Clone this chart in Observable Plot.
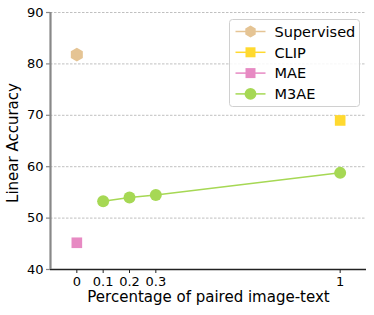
<!DOCTYPE html>
<html>
<head>
<meta charset="utf-8">
<script src="https://cdn.jsdelivr.net/npm/d3@7"></script>
<script src="https://cdn.jsdelivr.net/npm/@observablehq/plot@0.6"></script>
<style>
  html, body { margin: 0; padding: 0; background: #fff; }
  #chart { position: relative; width: 374px; height: 315px; }
  svg { font-family: "DejaVu Sans", sans-serif; }
</style>
</head>
<body>
<div id="chart"></div>
<script>
// ---- data ----
const seriesNames = ["Supervised", "CLIP", "MAE", "M3AE"];
const seriesColors = ["#e5c494", "#ffd92f", "#e78ac3", "#a6d854"];
const seriesSymbols = ["hexagon", "square", "square", "circle"];

const supervisedX = [0];
const supervisedY = [81.8];
const clipX = [1];
const clipY = [69.0];
const maeX = [0];
const maeY = [45.2];
const m3aeX = [0.1, 0.2, 0.3, 1];
const m3aeY = [53.3, 54.0, 54.5, 58.8];

const xTicks = [0, 0.1, 0.2, 0.3, 1];
const yTicks = [40, 50, 60, 70, 80, 90];

const toRows = (xs, ys, s) => xs.map((x, i) => ({x, y: ys[i], s}));
const supervised = toRows(supervisedX, supervisedY, "Supervised");
const clip = toRows(clipX, clipY, "CLIP");
const mae = toRows(maeX, maeY, "MAE");
const m3ae = toRows(m3aeX, m3aeY, "M3AE");

const chart = Plot.plot({
  width: 374,
  height: 315,
  marginLeft: 50,
  marginRight: 8,
  marginTop: 12,
  marginBottom: 46,
  style: {fontFamily: "DejaVu Sans, sans-serif", fontSize: "13px", color: "#000", background: "#fff"},
  x: {domain: [-0.1, 1.1]},
  y: {domain: [40, 90]},
  marks: [
    Plot.gridY(yTicks.filter(d => d > 40), {stroke: "#b0b0b0", strokeOpacity: 1, strokeWidth: 0.8, strokeDasharray: "2.5,1.5"}),
    Plot.ruleY([40], {stroke: "#222", strokeWidth: 1.3}),
    Plot.ruleX([-0.1], {stroke: "#888", strokeWidth: 2.2}),
    Plot.axisY(yTicks, {tickSize: 4, tickPadding: 3, stroke: "#888", strokeWidth: 1.2, fontSize: 13, label: null}),
    Plot.axisX(xTicks, {tickSize: 4, tickPadding: 3, stroke: "#222", fontSize: 13, tickFormat: d => String(d), label: null}),
    Plot.line(m3ae, {x: "x", y: "y", stroke: seriesColors[3], strokeWidth: 1.5}),
    Plot.dot(supervised, {x: "x", y: "y", symbol: () => seriesSymbols[0], fill: seriesColors[0], r: 6}),
    Plot.dot(clip, {x: "x", y: "y", symbol: () => seriesSymbols[1], fill: seriesColors[1], r: 6}),
    Plot.dot(mae, {x: "x", y: "y", symbol: () => seriesSymbols[2], fill: seriesColors[2], r: 6}),
    Plot.dot(m3ae, {x: "x", y: "y", symbol: () => seriesSymbols[3], fill: seriesColors[3], r: 6}),
    Plot.text(["Linear Accuracy"], {frameAnchor: "left", textAnchor: "middle", lineAnchor: "middle", rotate: -90, dx: -37, dy: 2, fontSize: 15, fill: "#000"}),
    Plot.text(["Percentage of paired image-text"], {frameAnchor: "bottom", dy: 32, fontSize: 15, fill: "#000"})
  ]
});
document.getElementById("chart").appendChild(chart);

// ---- legend ----
const svg = d3.select(chart);
const lg = svg.append("g").attr("transform", "translate(229.5,19.5)").attr("text-anchor", "start");
lg.append("rect").attr("width", 130).attr("height", 87).attr("rx", 3)
  .attr("fill", "rgba(255,255,255,0.85)").attr("stroke", "#d0d0d0").attr("stroke-width", 1);
const hexPath = (r) => d3.range(6).map(k => {
  const a = Math.PI / 2 + k * Math.PI / 3;
  return (k ? "L" : "M") + (r * Math.cos(a)).toFixed(2) + "," + (r * Math.sin(a)).toFixed(2);
}).join("") + "Z";
seriesNames.forEach((name, i) => {
  const cy = 12 + i * 20.8;
  const row = lg.append("g").attr("transform", `translate(0,${cy})`);
  row.append("line").attr("x1", 6).attr("x2", 36).attr("y1", 0).attr("y2", 0)
    .attr("stroke", seriesColors[i]).attr("stroke-width", 1.5);
  const s = seriesSymbols[i];
  const d = s === "hexagon" ? hexPath(6) : s === "square" ? d3.symbol(d3.symbolSquare, 100)() : d3.symbol(d3.symbolCircle, 110)();
  row.append("path").attr("transform", "translate(21,0)").attr("d", d).attr("fill", seriesColors[i]);
  row.append("text").attr("x", 45).attr("y", 0).attr("dy", "0.36em")
    .attr("font-size", 14.5).attr("fill", "#000").attr("text-anchor", "start").text(name);
});
</script>
</body>
</html>
